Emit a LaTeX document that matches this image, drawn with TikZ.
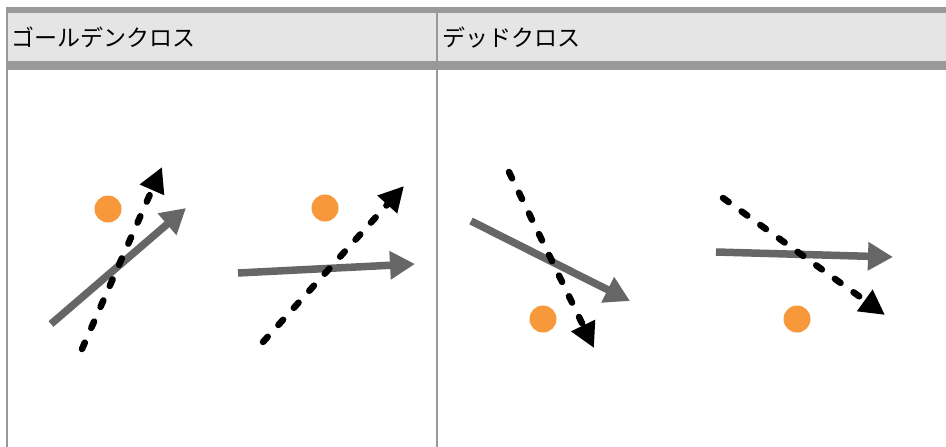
\documentclass[tikz,border=0pt]{standalone}
\usepackage{fontspec}
\newfontfamily\jfont{Noto Sans CJK JP}
\usetikzlibrary{arrows.meta}
\definecolor{rulegray}{HTML}{999999}
\definecolor{headbg}{HTML}{E5E5E5}
\definecolor{slowgray}{HTML}{666666}
\definecolor{dotorange}{HTML}{F7993A}
\tikzset{
  headtext/.style={anchor=west, inner sep=0pt, font=\jfont\fontsize{23}{23}\selectfont},
  dot/.style={circle, fill=dotorange, minimum size=27pt, inner sep=0pt},
  slowline/.style={draw=slowgray, line width=7.5pt, -{Triangle[length=25pt,width=27pt]}},
  fastline/.style={draw=black, line width=6.5pt, dash pattern=on 7pt off 16pt, line cap=round,
    -{Triangle[length=25pt,width=25pt]}},
}
\begin{document}
\begin{tikzpicture}[x=1pt,y=-1pt]
\useasboundingbox (0,0) rectangle (946,447);
\fill[white] (0,0) rectangle (946,447);
% table frame
\fill[headbg] (8,13) rectangle (946,61);
\fill[rulegray] (6,7) rectangle (946,13);
\fill[rulegray] (6,61) rectangle (946,70);
\fill[rulegray] (6,7) rectangle (8,447);
\fill[rulegray] (436,13) rectangle (438,447);
% headers
\node[headtext] (h1) at (11,37.5) {ゴールデンクロス};
\node[headtext] (h2) at (442,37.5) {デッドクロス};

% golden cross, first case
\node[dot] (d1) at (108,209) {};
\coordinate (s1a) at (51,324);  \coordinate (s1b) at (186,208);
\coordinate (f1a) at (82,349);  \coordinate (f1b) at (162,167);
\draw[slowline] (s1a) -- (s1b);
\draw[fastline] (f1a) -- (f1b);

% golden cross, second case
\node[dot] (d2) at (325,208) {};
\coordinate (s2a) at (238,273); \coordinate (s2b) at (415,264);
\coordinate (f2a) at (263,342); \coordinate (f2b) at (404,186);
\draw[slowline] (s2a) -- (s2b);
\draw[fastline] (f2a) -- (f2b);

% dead cross, first case
\node[dot] (d3) at (543,319) {};
\coordinate (s3a) at (471,221); \coordinate (s3b) at (630,301);
\coordinate (f3a) at (509,172); \coordinate (f3b) at (594,348);
\draw[slowline] (s3a) -- (s3b);
\draw[fastline] (f3a) -- (f3b);

% dead cross, second case
\node[dot] (d4) at (797,319) {};
\coordinate (s4a) at (716,252); \coordinate (s4b) at (893,257);
\coordinate (f4a) at (723,198); \coordinate (f4b) at (885,315);
\draw[slowline] (s4a) -- (s4b);
\draw[fastline] (f4a) -- (f4b);
\end{tikzpicture}
\end{document}
